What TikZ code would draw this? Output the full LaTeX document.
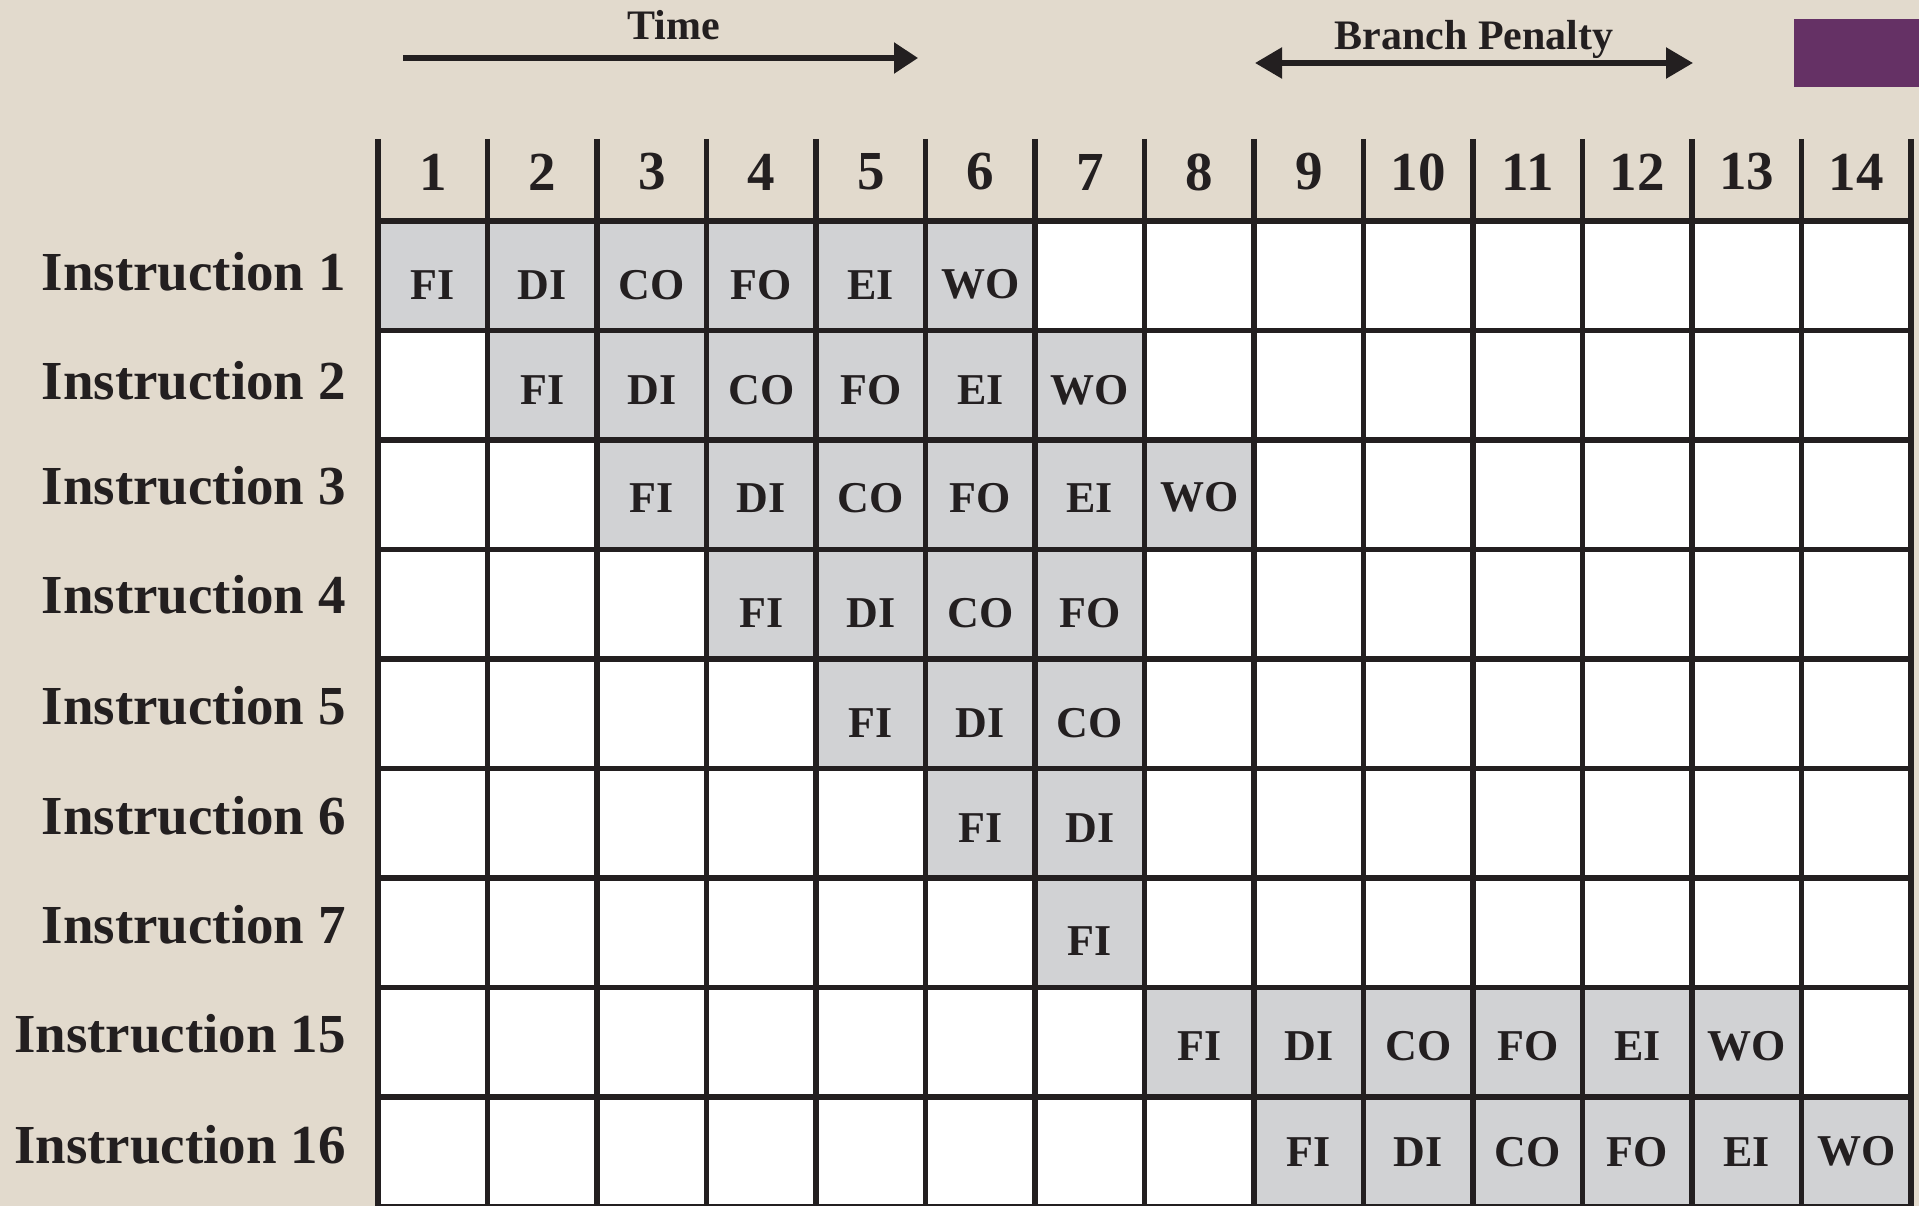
\documentclass[tikz,border=0pt]{standalone}
\usepackage{fontspec}
\setmainfont{Liberation Serif}
\usepackage{tikz}
\usetikzlibrary{arrows.meta}
\definecolor{paperbeige}{RGB}{226,218,205}
\definecolor{inkblack}{RGB}{35,31,32}
\definecolor{stagegrey}{RGB}{209,210,212}
\definecolor{cornerpurple}{RGB}{101,49,101}
\tikzset{
  gridline/.style={draw=inkblack,line width=5.5pt},
  headerline/.style={draw=inkblack,line width=6.5pt},
  stagecell/.style={fill=stagegrey},
  stagelabel/.style={font=\fontsize{44}{48}\selectfont\bfseries,text=inkblack,
    inner sep=0pt},
  rowlabel/.style={font=\fontsize{55}{60}\selectfont\bfseries,text=inkblack,
    inner sep=0pt,anchor=east},
  ticklabel/.style={font=\fontsize{55}{60}\selectfont\bfseries,text=inkblack,
    inner sep=0pt},
  axislabel/.style={font=\fontsize{42}{46}\selectfont\bfseries,text=inkblack,
    inner sep=0pt,anchor=base},
  timearrow/.style={draw=inkblack,line width=5.5pt,
    -{Triangle[length=24pt,width=30pt]}},
  penaltyarrow/.style={draw=inkblack,line width=5.5pt,
    {Triangle[length=27pt,width=30pt]}-{Triangle[length=27pt,width=30pt]}}
}

\begin{document}
\begin{tikzpicture}[x=1pt,y=-1pt]
  \useasboundingbox (0,0) rectangle (1919,1206);
  \fill[paperbeige] (0,0) rectangle (1919,1206);
  \fill[cornerpurple] (1794,19) rectangle (1919,87);

  % time and branch penalty
  \node[axislabel] (timetext) at (674,40) {Time};
  \coordinate (timestart) at (403,58);
  \coordinate (timeend) at (918,58);
  \draw[timearrow] (timestart) -- (timeend);
  \node[axislabel] (penaltytext) at (1474,50) {Branch Penalty};
  \coordinate (penaltystart) at (1255,63);
  \coordinate (penaltyend) at (1693,63);
  \draw[penaltyarrow] (penaltystart) -- (penaltyend);

  % cells (row/instruction/first column/label shift/stage shift/stages)
  \fill[white] (378,221) rectangle (1911,1210);
  \foreach \row/\num/\start/\ls/\ss/\stages in {
      1/1/1/-4/9/{FI,DI,CO,FO,EI,WO},
      2/2/2/-4/5/{FI,DI,CO,FO,EI,WO},
      3/3/3/-9/3/{FI,DI,CO,FO,EI,WO},
      4/4/4/-9/9/{FI,DI,CO,FO},
      5/5/5/-8/9/{FI,DI,CO},
      6/6/6/-8/5/{FI,DI},
      7/7/7/-8/8/{FI},
      8/15/8/-9/4/{FI,DI,CO,FO,EI,WO},
      9/16/9/-7/0/{FI,DI,CO,FO,EI,WO}} {
    \pgfmathsetmacro\cy{221+(\row-0.5)*109.5}
    \node[rowlabel] (instr\num) at (346,\cy+\ls) {Instruction \num};
    \foreach \st [count=\k from 0] in \stages {
      \pgfmathsetmacro\cx{378+(\start+\k-0.5)*109.5}
      \fill[stagecell] (\cx-54.75,\cy-54.75) rectangle ++(109.5,109.5);
      \node[stagelabel] (st-\row-\k) at (\cx,\cy+\ss) {\st};
    }
  }

  % header numbers
  \foreach \col in {1,...,14}
    \node[ticklabel] (tick\col) at ({378+(\col-0.5)*109.5},172) {\col};

  % grid
  \foreach \col in {0,...,14}
    \draw[gridline] ({378+\col*109.5},139) -- ({378+\col*109.5},1212);
  \draw[headerline] (378,221) -- (1911,221);
  \foreach \row in {1,...,9}
    \draw[gridline] (378,{221+\row*109.5}) -- (1911,{221+\row*109.5});
\end{tikzpicture}
\end{document}
